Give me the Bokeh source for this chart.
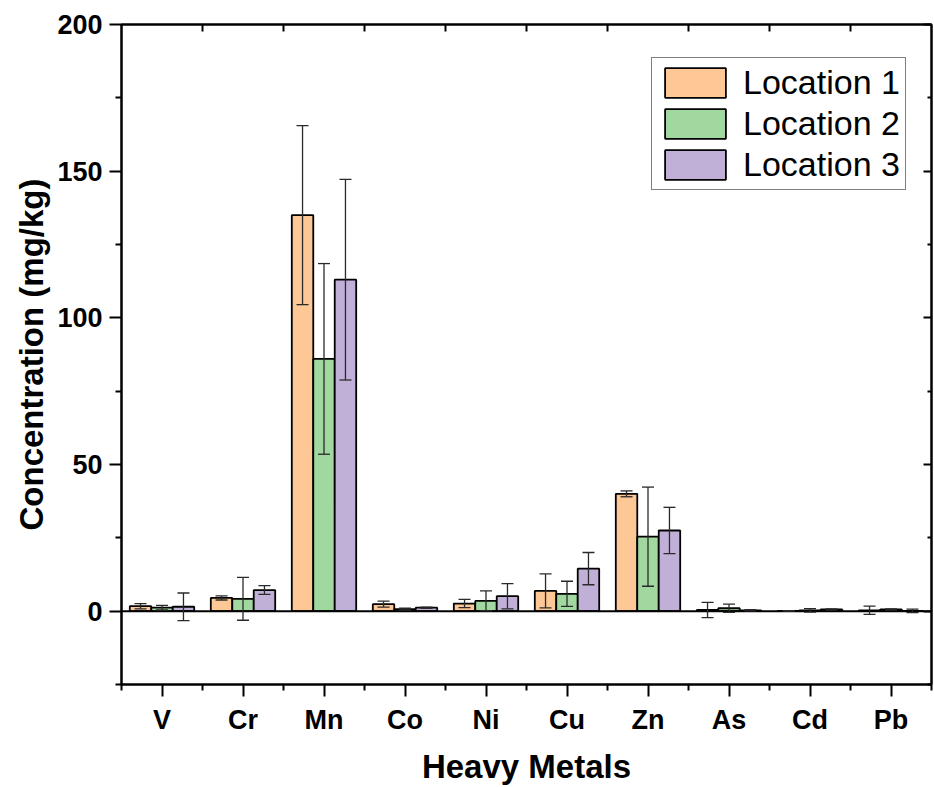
from bokeh.plotting import figure
from bokeh.models import (ColumnDataSource, FixedTicker, LinearAxis, Whisker, TeeHead,
                          Span, Range1d, Legend, LegendItem, CustomJSTickFormatter)
from bokeh.embed import file_html
from bokeh.resources import INLINE

metals = ["V", "Cr", "Mn", "Co", "Ni", "Cu", "Zn", "As", "Cd", "Pb"]
series_names = ["Location 1", "Location 2", "Location 3"]
loc1 = [1.7, 4.5, 135.0, 2.4, 2.6, 6.9, 40.0, 0.4, 0.1, 0.3]
loc1_err = [0.9, 0.7, 30.5, 1.0, 1.4, 5.8, 1.0, 2.6, 0.1, 1.4]
loc2 = [1.2, 4.2, 86.0, 0.7, 3.5, 5.9, 25.4, 1.0, 0.3, 0.6]
loc2_err = [0.8, 7.3, 32.5, 0.3, 3.4, 4.3, 16.9, 1.4, 0.6, 0.2]
loc3 = [1.5, 7.2, 113.0, 1.2, 5.1, 14.5, 27.5, 0.3, 0.6, 0.1]
loc3_err = [4.7, 1.5, 34.2, 0.2, 4.3, 5.5, 7.9, 0.2, 0.2, 0.6]
y_ticks = [0, 50, 100, 150, 200]
y_minor = [-25, 25, 75, 125, 175]

colors = ["#FDC896", "#A0D8A0", "#C0B0D8"]
FONT = "Liberation Sans"

p = figure(width=934, height=787, output_backend="svg", toolbar_location=None,
           x_range=Range1d(0.5, 10.5), y_range=Range1d(-25, 200),
           min_border_left=121, min_border_right=3, min_border_top=24, min_border_bottom=103)
p.xgrid.visible = False
p.ygrid.visible = False
p.outline_line_color = "black"
p.outline_line_width = 2
p.background_fill_color = "white"
p.border_fill_color = "white"

bw = 0.265
offsets = [-bw, 0.0, bw]
vals = [loc1, loc2, loc3]
errs = [loc1_err, loc2_err, loc3_err]
xs = list(range(1, len(metals) + 1))

items = []
for i in range(3):
    x = [xi + offsets[i] for xi in xs]
    src = ColumnDataSource(dict(x=x, top=vals[i],
                                upper=[v + e for v, e in zip(vals[i], errs[i])],
                                lower=[v - e for v, e in zip(vals[i], errs[i])]))
    r = p.vbar(x="x", top="top", bottom=0, width=bw, source=src,
               fill_color=colors[i], line_color="black", line_width=1.8)
    items.append(LegendItem(label=series_names[i], renderers=[r]))
    w = Whisker(source=src, base="x", upper="upper", lower="lower",
                line_color="#2a2a2a", line_width=1.3, level="overlay",
                upper_head=TeeHead(size=12, line_color="#2a2a2a", line_width=1.3),
                lower_head=TeeHead(size=12, line_color="#2a2a2a", line_width=1.3))
    p.add_layout(w)

p.add_layout(Span(location=0, dimension="width", line_color="black", line_width=2))

xa = p.xaxis[0]
xa.ticker = FixedTicker(ticks=xs, minor_ticks=[x + 0.5 for x in range(0, 11)])
xa.major_label_overrides = {i + 1: m for i, m in enumerate(metals)}
xa.axis_label = "Heavy Metals"
for ax in [xa, p.yaxis[0]]:
    ax.axis_line_width = 2
    ax.major_tick_line_width = 2
    ax.minor_tick_line_width = 2
    ax.major_tick_out = 12
    ax.major_tick_in = 0
    ax.minor_tick_out = 6
    ax.minor_tick_in = 0
    ax.major_label_text_font = FONT
    ax.major_label_text_font_style = "bold"
    ax.major_label_text_font_size = "27px"
    ax.major_label_text_color = "black"
    ax.axis_label_text_font = FONT
    ax.axis_label_text_font_style = "bold"
    ax.axis_label_text_font_size = "33px"
    ax.axis_label_text_color = "black"
xa.major_label_standoff = 8
xa.axis_label_standoff = 10

ya = p.yaxis[0]
ya.ticker = FixedTicker(ticks=y_ticks, minor_ticks=y_minor)
ya.axis_label = "Concentration (mg/kg)"
ya.major_label_standoff = 7
ya.axis_label_standoff = 4

top = LinearAxis(ticker=FixedTicker(ticks=[x + 0.5 for x in range(1, 10)], minor_ticks=[]),
                 formatter=CustomJSTickFormatter(code="return '';"), major_label_standoff=0,
                 axis_line_width=2, major_tick_line_width=2, major_tick_in=7, major_tick_out=0)
p.add_layout(top, "above")
right = LinearAxis(ticker=FixedTicker(ticks=y_ticks, minor_ticks=y_minor),
                   formatter=CustomJSTickFormatter(code="return '';"), major_label_standoff=0,
                   axis_line_width=2, major_tick_line_width=2, minor_tick_line_width=2,
                   major_tick_in=8, major_tick_out=0, minor_tick_in=4, minor_tick_out=0)
p.add_layout(right, "right")

legend = Legend(items=items, location=(530, 494),
                label_text_font=FONT, label_text_font_size="34px", label_text_color="black",
                glyph_width=76, glyph_height=37, label_height=37, spacing=2, padding=5,
                label_standoff=10, border_line_color="black", border_line_width=1,
                background_fill_color="white", background_fill_alpha=1, margin=0)
p.add_layout(legend, "center")

open("out.html", "w").write(file_html(p, INLINE))
